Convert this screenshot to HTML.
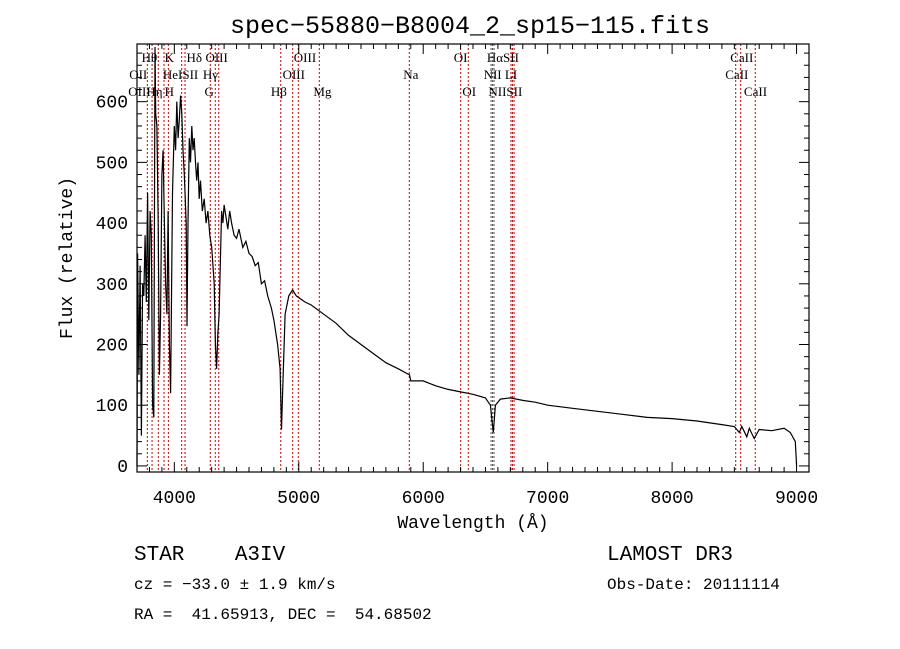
<!DOCTYPE html>
<html><head><meta charset="utf-8"><style>
body{margin:0;background:#fff;}
svg{display:block;font-family:"Liberation Serif",serif;}
.mono{font-family:"Liberation Mono",monospace;white-space:pre;}
</style></head><body>
<svg id="c" width="900" height="649" viewBox="0 0 900 649" xmlns="http://www.w3.org/2000/svg">
<rect width="900" height="649" fill="#fff"/>
<text class="mono" x="470" y="33" font-size="25" text-anchor="middle">spec−55880−B8004_2_sp15−115.fits</text>
<g id="lines"></g>
<g id="labels"></g>
<path id="spec" fill="none" stroke="#000" stroke-width="1.2"/>
<g id="ticks"></g>
<rect x="137" y="44" width="672" height="428" fill="none" stroke="#000" stroke-width="1.2"/>
<text class="mono" x="473" y="528" font-size="18" text-anchor="middle">Wavelength (Å)</text>
<text class="mono" transform="translate(72,258) rotate(-90)" font-size="18" text-anchor="middle">Flux (relative)</text>
<text class="mono" x="134" y="560" font-size="21" xml:space="preserve">STAR    A3IV</text>
<text class="mono" x="134" y="589" font-size="16" xml:space="preserve">cz = −33.0 ± 1.9 km/s</text>
<text class="mono" x="134" y="619" font-size="16" xml:space="preserve">RA =  41.65913, DEC =  54.68502</text>
<text class="mono" x="607" y="560" font-size="21">LAMOST DR3</text>
<text class="mono" x="607" y="589" font-size="16">Obs-Date: 20111114</text>
</svg>
<script>
const wave=[3700,3705,3715,3725,3735,3745,3755,3765,3775,3785,3795,3805,3815,3825,3835,3845,3850,3860,3870,3880,3890,3900,3910,3920,3930,3940,3950,3960,3970,3985,4000,4010,4020,4030,4040,4050,4060,4070,4080,4095,4102,4110,4120,4130,4140,4150,4160,4170,4180,4190,4200,4210,4225,4240,4255,4270,4285,4300,4320,4330,4340,4350,4360,4380,4390,4400,4415,4430,4445,4460,4480,4500,4520,4550,4575,4600,4625,4650,4675,4700,4725,4750,4780,4800,4830,4850,4861,4870,4890,4920,4950,4980,5050,5100,5200,5300,5400,5500,5600,5700,5800,5890,5900,6000,6100,6200,6300,6400,6500,6540,6563,6580,6620,6700,6800,6900,7000,7200,7400,7600,7800,8000,8200,8400,8500,8540,8560,8600,8620,8660,8700,8800,8900,8950,8990,9000];
const flux=[0,350,150,330,50,300,280,380,270,450,240,420,380,100,80,690,580,560,400,150,250,480,520,400,300,250,420,200,120,450,560,520,600,540,570,610,580,520,480,400,230,400,540,500,560,520,540,500,470,500,440,470,420,440,400,420,380,360,300,200,160,220,250,420,400,430,410,390,420,400,380,375,390,360,370,350,345,330,335,300,305,280,260,240,200,160,60,120,250,280,290,280,270,265,250,235,215,200,185,170,160,150,140,140,132,126,122,118,112,100,55,100,110,112,108,105,100,95,90,85,80,78,74,68,65,55,65,48,62,45,60,58,62,55,40,0];
const xTicks=[4000,5000,6000,7000,8000,9000];
const yTicks=[0,100,200,300,400,500,600];
const lineWaves=[3783,3821,3871,3917,3952,4059,4086,4289,4329,4357,4855,4951,4996,5165,5888,6301,6362,6545,6557,6569,6705,6717,6730,8511,8551,8668];
const labelTexts=["Hθ","K","Hδ","OIII","OIII","OI","HαSII","CaII","OII","HeISII","Hγ","OIII","Na","NII LI","CaII","OIII","Hη","H","G","Hβ","Mg","OI","NIISII","CaII"];
const labelWaves=[3800,3960,4160,4340,5050,6300,6640,8560,3710,4050,4290,4960,5900,6620,8520,3720,3840,3960,4280,4840,5190,6370,6660,8670];
const labelRows=[0,0,0,0,0,0,0,0,1,1,1,1,1,1,1,2,2,2,2,2,2,2,2,2];
const X0=3700,X1=9100,Y0=-10,Y1=695,PL=137,PR=809,PT=44,PB=472;
const sx=w=>PL+(w-X0)/(X1-X0)*(PR-PL);
const sy=f=>PB-(f-Y0)/(Y1-Y0)*(PB-PT);
const NS="http://www.w3.org/2000/svg";
function mk(t,a,p){const e=document.createElementNS(NS,t);for(const k in a)e.setAttribute(k,a[k]);p.appendChild(e);return e;}
document.getElementById('spec').setAttribute('d',wave.map((w,i)=>(i?'L':'M')+sx(w).toFixed(1)+','+sy(flux[i]).toFixed(1)).join(''));
const lg=document.getElementById('lines');
lineWaves.forEach(w=>{const l=mk('line',{x1:sx(w),x2:sx(w),y1:PT,y2:PB,stroke:(w>6540&&w<6590)?'#555':'#c00','stroke-width':1,'stroke-dasharray':'2,2'},lg);

});
const lb=document.getElementById('labels');
labelTexts.forEach((t,i)=>{const e=mk('text',{x:sx(labelWaves[i]),y:62+labelRows[i]*17,'font-size':13,'text-anchor':'middle'},lb);e.textContent=t;

});
const tg=document.getElementById('ticks');
for(let w=3700;w<=9100;w+=100){const maj=w%1000===0;const x=sx(w);
mk('line',{x1:x,x2:x,y1:PB,y2:PB-(maj?10:5),stroke:'#000'},tg);
mk('line',{x1:x,x2:x,y1:PT,y2:PT+(maj?10:5),stroke:'#000'},tg);}
for(let f=0;f<=680;f+=20){const maj=f%100===0;const y=sy(f);
mk('line',{x1:PL,x2:PL+(maj?10:5),y1:y,y2:y,stroke:'#000'},tg);
mk('line',{x1:PR,x2:PR-(maj?10:5),y1:y,y2:y,stroke:'#000'},tg);}
xTicks.forEach(w=>{const e=mk('text',{x:sx(w),y:503,'font-size':18,'text-anchor':'middle',class:'mono'},tg);e.textContent=w;

});
yTicks.forEach(f=>{const e=mk('text',{x:128,y:sy(f)+6,'font-size':18,'text-anchor':'end',class:'mono'},tg);e.textContent=f;

});
</script>
</body></html>
